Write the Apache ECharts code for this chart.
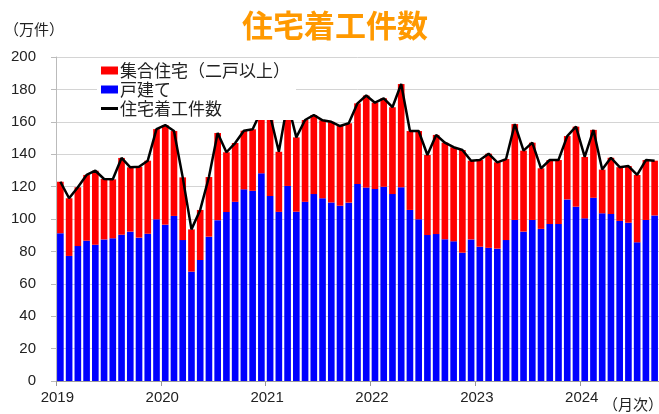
<!DOCTYPE html>
<html>
<head>
<meta charset="utf-8">
<script src="https://cdn.jsdelivr.net/npm/echarts@6/dist/echarts.min.js"></script>
<style>
html, body { margin: 0; padding: 0; background: #fff; }
#main { width: 659px; height: 414px; }
</style>
</head>
<body>
<div id="main"></div>
<script>
// 月次データ 2019/1 〜 2024/9（万件）
var years = [2019, 2020, 2021, 2022, 2023, 2024];
var lastMonth = 9;

// 戸建て
var single = [
  91.2, 77.2, 83.3, 86.6, 84.1, 87.4, 88.1, 90.3, 92.2, 88.5, 90.9, 99.8,
  96.5, 101.9, 87.0, 67.5, 74.7, 89.1, 99.3, 104.3, 110.6, 118.3, 117.4, 128.2,
  114.2, 104.4, 120.4, 104.5, 110.6, 115.4, 112.8, 110.2, 108.2, 110.1, 121.6, 119.4,
  118.5, 119.9, 115.4, 119.6, 105.6, 99.8, 90.1, 90.7, 87.5, 86.2, 79.2, 87.4,
  82.9, 82.2, 81.7, 87.0, 99.4, 92.2, 99.4, 93.9, 96.9, 96.9, 112.1, 107.6,
  100.4, 113.1, 103.5, 103.1, 98.8, 97.7, 85.6, 99.4, 102.2
];

// 住宅着工件数（合計）
var total = [
  123.0, 112.8, 119.6, 127.2, 129.8, 124.7, 124.5, 137.7, 131.9, 132.3, 136.0, 155.5,
  158.0, 154.3, 125.7, 93.6, 105.6, 125.9, 153.1, 141.2, 146.9, 154.5, 155.4, 167.0,
  164.0, 141.5, 172.0, 150.4, 161.1, 164.2, 160.9, 160.0, 157.4, 159.1, 171.4, 176.2,
  171.8, 174.5, 169.0, 183.3, 154.3, 154.3, 139.5, 151.9, 147.1, 144.3, 142.6, 136.0,
  136.4, 140.3, 135.0, 137.0, 158.6, 142.2, 147.1, 131.3, 136.4, 136.4, 151.2, 157.0,
  138.3, 155.0, 130.5, 137.8, 132.0, 132.7, 127.2, 136.4, 136.0
];

var categories = [];
years.forEach(function(y, i) {
  var n = (i == years.length - 1) ? lastMonth : 12;
  for (var m = 1; m <= n; m++) {
    categories.push(y + '/' + m);
  }
});

// 集合住宅 = 合計 - 戸建て（積み上げ用）
var multi = total.map(function(v, i) {
  return Math.round((v - single[i]) * 10) / 10;
});

var font = "'Liberation Sans', 'Noto Sans CJK JP', sans-serif";
var cjk = "'Noto Sans CJK JP', sans-serif";

var chart = echarts.init(document.getElementById('main'));
var option = {
  animation: false,
  backgroundColor: '#fff',
  title: {
    text: '住宅着工件数',
    left: 237,
    top: 5,
    textStyle: {
      color: '#FF9900',
      fontSize: 31,
      fontWeight: 'bold',
      fontFamily: cjk
    }
  },
  graphic: [
    {
      type: 'text',
      left: 4,
      top: 22,
      style: { text: '（万件）', fill: '#222', font: '15px ' + cjk }
    },
    {
      type: 'text',
      right: -4,
      top: 397,
      style: { text: '（月次）', fill: '#222', font: '15px ' + cjk }
    }
  ],
  legend: {
    orient: 'vertical',
    left: 97,
    top: 58,
    padding: [4, 6, 3, 4],
    itemGap: 2,
    itemWidth: 17,
    itemHeight: 8,
    symbolKeepAspect: true,
    backgroundColor: '#fff',
    textStyle: { fontSize: 17, color: '#222', fontFamily: cjk, padding: [0, 0, 0, -3] },
    data: [
      { name: '集合住宅（二戸以上）', icon: 'rect' },
      { name: '戸建て', icon: 'rect' },
      { name: '住宅着工件数', icon: 'path://M0,0H17V3H0Z' }
    ]
  },
  grid: {
    left: 56,
    top: 57,
    width: 604,
    height: 324
  },
  xAxis: {
    type: 'category',
    data: categories,
    axisLine: { lineStyle: { color: '#999', width: 1 } },
    axisTick: {
      show: true,
      interval: 11,
      length: 5,
      lineStyle: { color: '#999' }
    },
    axisLabel: {
      interval: 11,
      margin: 9,
      fontSize: 15,
      color: '#222',
      fontFamily: font,
      padding: [0, 6, 0, 0],
      formatter: function(v) { return v.split('/')[0]; }
    }
  },
  yAxis: {
    type: 'value',
    min: 0,
    max: 200,
    interval: 20,
    axisLine: { show: true, lineStyle: { color: '#bbb' } },
    axisTick: { show: true, length: 5, lineStyle: { color: '#bbb' } },
    axisLabel: { fontSize: 15, color: '#222', margin: 20, fontFamily: font },
    splitLine: { lineStyle: { color: '#d4d4d4', width: 1 } }
  },
  series: [
    {
      name: '戸建て',
      type: 'bar',
      stack: 'starts',
      barWidth: '76%',
      itemStyle: { color: '#0000FF' },
      data: single
    },
    {
      name: '集合住宅（二戸以上）',
      type: 'bar',
      stack: 'starts',
      barWidth: '76%',
      itemStyle: { color: '#FF0000' },
      data: multi
    },
    {
      name: '住宅着工件数',
      type: 'line',
      symbol: 'none',
      z: 3,
      lineStyle: { color: '#000', width: 2.5 },
      itemStyle: { color: '#000' },
      data: total
    }
  ]
};
chart.setOption(option);
</script>
</body>
</html>
